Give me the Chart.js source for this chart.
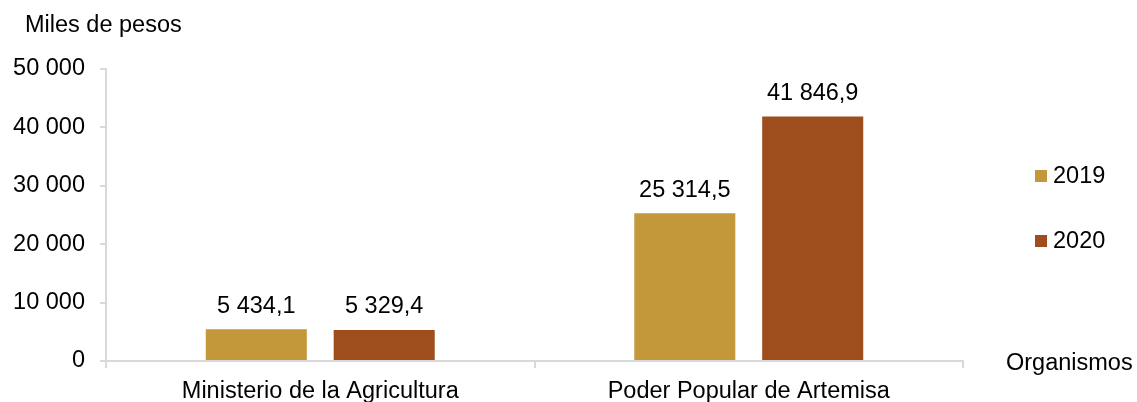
<!DOCTYPE html>
<html>
<head>
<meta charset="utf-8">
<script src="https://cdn.jsdelivr.net/npm/chart.js@4"></script>
<style>
  html, body { margin: 0; padding: 0; background: #fff; }
  #wrap { width: 1137px; height: 402px; }
</style>
</head>
<body>
<div id="wrap"><canvas id="myChart" width="1137" height="402"></canvas></div>
<script>
let categories = ['Ministerio de la Agricultura', 'Poder Popular de Artemisa'];
let values2019 = [5434.1, 25314.5];
let values2020 = [5329.4, 41846.9];
let seriesNames = ['2019', '2020'];
let colorHex = ['#c3983a', '#9e4e1c'];

let fontFamily = '"Liberation Sans", Arial, sans-serif';
let fontSize = 23.5;

// 5 434,1 style numbers
function fmt(v, decimals) {
  let parts = v.toFixed(decimals).split('.');
  let intPart = parts[0].replace(/\B(?=(\d{3})+(?!\d))/g, ' ');
  return parts.length > 1 ? intPart + ',' + parts[1] : intPart;
}

let extras = {
  id: 'extras',
  afterDraw: (chart) => {
    let c = chart.ctx;
    c.save();
    c.font = fontSize + 'px ' + fontFamily;
    c.fillStyle = '#000';
    c.textBaseline = 'middle';

    // value labels above bars
    c.textAlign = 'center';
    chart.data.datasets.forEach((ds, i) => {
      chart.getDatasetMeta(i).data.forEach((bar, j) => {
        c.fillText(fmt(ds.data[j], 1), bar.x, bar.y - 23);
      });
    });

    // axis titles
    c.textAlign = 'left';
    c.fillText('Miles de pesos', 25, 26);
    c.fillText('Organismos', 1006, 364);

    // legend
    chart.data.datasets.forEach((ds, i) => {
      let y = 176 + i * 65;
      c.fillStyle = ds.backgroundColor;
      c.fillRect(1035, y - 6, 12, 12);
      c.fillStyle = '#000';
      c.fillText(ds.label, 1053, y + 1);
    });
    c.restore();
  }
};

let ctx = document.getElementById('myChart').getContext('2d');
let myChart = new Chart(ctx, {
  type: 'bar',
  data: {
    labels: categories,
    datasets: [
      { label: seriesNames[0], data: values2019, backgroundColor: colorHex[0] },
      { label: seriesNames[1], data: values2020, backgroundColor: colorHex[1] }
    ]
  },
  plugins: [extras],
  options: {
    responsive: false,
    animation: false,
    layout: { padding: { top: 69, right: 174, bottom: 0, left: 0 } },
    categoryPercentage: 0.597,
    barPercentage: 0.79,
    plugins: {
      legend: { display: false },
      tooltip: { enabled: false }
    },
    scales: {
      x: {
        grid: { drawOnChartArea: false, color: '#d9d9d9', tickLength: 7, lineWidth: 2 },
        border: { color: '#d9d9d9', width: 2 },
        ticks: { color: '#000', font: { family: fontFamily, size: fontSize }, padding: 9, maxRotation: 0 },
        afterFit: (scale) => { scale.height = 41; }
      },
      y: {
        min: 0,
        max: 50000,
        grid: { drawOnChartArea: false, color: '#d9d9d9', tickLength: 6, lineWidth: 2 },
        border: { color: '#d9d9d9', width: 2 },
        ticks: {
          stepSize: 10000,
          color: '#000',
          padding: 15,
          font: { family: fontFamily, size: fontSize },
          callback: (value) => fmt(value, 0)
        },
        afterFit: (scale) => { scale.width = 106; }
      }
    }
  }
});
</script>
</body>
</html>
